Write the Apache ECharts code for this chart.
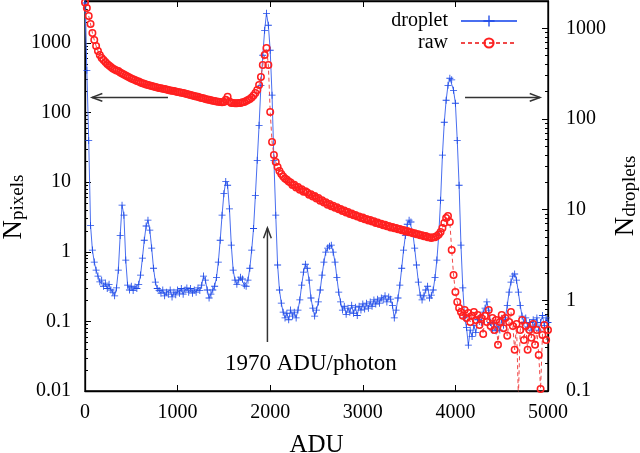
<!DOCTYPE html>
<html>
<head>
<meta charset="utf-8">
<script src="https://cdn.jsdelivr.net/npm/echarts@6/dist/echarts.min.js"></script>
<style>
html, body { margin: 0; padding: 0; background: #fff; }
#chart { width: 640px; height: 453px; }
</style>
</head>
<body>
<div id="chart"></div>
<script>
// histogram bins, 20 ADU wide
var adu = [
    0, 20, 40, 60, 80, 100, 120, 140, 160, 180,
    200, 220, 240, 260, 280, 300, 320, 340, 360, 380,
    400, 420, 440, 460, 480, 500, 520, 540, 560, 580,
    600, 620, 640, 660, 680, 700, 720, 740, 760, 780,
    800, 820, 840, 860, 880, 900, 920, 940, 960, 980,
    1000, 1020, 1040, 1060, 1080, 1100, 1120, 1140, 1160, 1180,
    1200, 1220, 1240, 1260, 1280, 1300, 1320, 1340, 1360, 1380,
    1400, 1420, 1440, 1460, 1480, 1500, 1520, 1540, 1560, 1580,
    1600, 1620, 1640, 1660, 1680, 1700, 1720, 1740, 1760, 1780,
    1800, 1820, 1840, 1860, 1880, 1900, 1920, 1940, 1960, 1980,
    2000, 2020, 2040, 2060, 2080, 2100, 2120, 2140, 2160, 2180,
    2200, 2220, 2240, 2260, 2280, 2300, 2320, 2340, 2360, 2380,
    2400, 2420, 2440, 2460, 2480, 2500, 2520, 2540, 2560, 2580,
    2600, 2620, 2640, 2660, 2680, 2700, 2720, 2740, 2760, 2780,
    2800, 2820, 2840, 2860, 2880, 2900, 2920, 2940, 2960, 2980,
    3000, 3020, 3040, 3060, 3080, 3100, 3120, 3140, 3160, 3180,
    3200, 3220, 3240, 3260, 3280, 3300, 3320, 3340, 3360, 3380,
    3400, 3420, 3440, 3460, 3480, 3500, 3520, 3540, 3560, 3580,
    3600, 3620, 3640, 3660, 3680, 3700, 3720, 3740, 3760, 3780,
    3800, 3820, 3840, 3860, 3880, 3900, 3920, 3940, 3960, 3980,
    4000, 4020, 4040, 4060, 4080, 4100, 4120, 4140, 4160, 4180,
    4200, 4220, 4240, 4260, 4280, 4300, 4320, 4340, 4360, 4380,
    4400, 4420, 4440, 4460, 4480, 4500, 4520, 4540, 4560, 4580,
    4600, 4620, 4640, 4660, 4680, 4700, 4720, 4740, 4760, 4780,
    4800, 4820, 4840, 4860, 4880, 4900, 4920, 4940, 4960, 4980,
    5000
];

// N_droplets (right axis)
var droplet = [
    1900, 344, 58, 6.7, 3.58, 2.64, 2.15, 1.85, 1.6, 1.67,
    1.43, 1.55, 1.35, 1.5, 1.30, 1.23, 1.12, 1.37, 2.15, 5.2,
    11.2, 8.7, 2.78, 1.47, 1.30, 1.43, 1.28, 1.40, 1.35, 1.5,
    1.90, 2.92, 4.6, 6.6, 7.66, 5.94, 3.77, 2.26, 1.59, 1.35,
    1.28, 1.20, 1.30, 1.12, 1.23, 1.17, 1.30, 1.09, 1.23, 1.15,
    1.30, 1.20, 1.35, 1.17, 1.30, 1.37, 1.23, 1.35, 1.20, 1.30,
    1.23, 1.37, 1.28, 1.47, 1.85, 1.67, 1.30, 1.06, 1.17, 1.30,
    1.43, 1.78, 2.64, 4.6, 8.7, 15, 20.5, 18.6, 10.2, 4.06,
    2.15, 1.67, 1.5, 1.67, 1.80, 1.72, 1.47, 1.43, 1.67, 2.26,
    3.58, 6.2, 14.3, 35, 85, 235, 504, 950, 1463, 1080,
    572, 183, 35, 8.7, 2.45, 1.30, 0.93, 0.74, 0.64, 0.72,
    0.61, 0.78, 0.67, 0.74, 0.64, 0.78, 1.01, 1.47, 2.05, 2.5,
    2.26, 1.67, 1.06, 0.82, 0.67, 0.78, 0.96, 1.30, 1.90, 2.64,
    3.4, 3.77, 3.96, 4.06, 3.4, 2.64, 1.78, 1.23, 0.96, 0.78,
    0.86, 0.70, 0.82, 0.74, 0.88, 0.72, 0.84, 0.68, 0.86, 0.78,
    0.91, 0.80, 0.93, 0.82, 0.96, 0.86, 1.01, 0.91, 1.03, 0.93,
    1.06, 1.01, 1.12, 0.96, 1.09, 1.03, 0.88, 0.64, 0.78, 1.06,
    1.47, 2.26, 3.58, 5.2, 6.9, 7.66, 7.3, 5.6, 3.77, 2.45,
    1.59, 1.14, 1.01, 1.12, 1.30, 1.43, 1.06, 1.14, 1.30, 1.78,
    2.78, 5.2, 12.7, 40, 92, 161, 235, 281, 270, 207,
    149, 58, 18.6, 4.06, 1.37, 0.64, 0.50, 0.32, 0.47, 0.40,
    0.53, 0.44, 0.61, 0.64, 0.57, 0.74, 0.82, 0.96, 0.78, 0.57,
    0.47, 0.55, 0.46, 0.52, 0.47, 0.61, 0.53, 0.64, 0.88, 1.23,
    1.59, 1.85, 1.95, 1.67, 1.23, 0.88, 0.67, 0.57, 0.64, 0.51,
    0.57, 0.47, 0.61, 0.52, 0.64, 0.47, 0.57, 0.68, 0.53, 0.64,
    0.57
];

// N_pixels (left axis)
var raw = [
    3800, 3180, 2440, 1875, 1390, 1100, 906, 767, 673, 609,
    570, 533, 499, 475, 452, 430, 416, 403, 395, 377,
    365, 353, 341, 330, 319, 309, 301, 294, 284, 278,
    271, 264, 259, 253, 249, 245, 241, 236, 232, 229,
    226, 223, 220, 217, 214, 211, 208, 206, 203, 200,
    198, 195, 192, 190, 187, 185, 182, 179, 176, 173,
    170, 168, 165, 162, 160, 157, 154, 152, 150, 148,
    146, 144, 143, 142, 141, 142, 152, 168, 144, 137,
    137, 136, 136, 137, 137, 140, 142, 146, 151, 157,
    165, 176, 191, 211, 249, 325, 483, 673, 848, 483,
    102, 37.8, 24.6, 19.5, 16.5, 14.5, 13.1, 12.1, 11.3, 10.8,
    10.2, 9.9, 9.1, 9.2, 8.4, 8.5, 7.8, 7.9, 7.3, 7.4,
    7.1, 6.6, 6.7, 6.2, 6.3, 5.8, 5.9, 5.4, 5.5, 5.1,
    5.15, 4.75, 4.85, 4.5, 4.6, 4.28, 4.36, 4.08, 4.12, 3.86,
    3.92, 3.66, 3.72, 3.5, 3.55, 3.34, 3.38, 3.2, 3.22, 3.05,
    3.1, 2.94, 2.96, 2.82, 2.86, 2.72, 2.74, 2.6, 2.63, 2.5,
    2.53, 2.41, 2.44, 2.32, 2.35, 2.24, 2.26, 2.17, 2.19, 2.1,
    2.12, 2.03, 2.05, 1.96, 1.98, 1.9, 1.91, 1.84, 1.85, 1.78,
    1.79, 1.72, 1.73, 1.67, 1.68, 1.61, 1.62, 1.58, 1.61, 1.62,
    1.69, 1.77, 1.92, 2.20, 2.59, 3.06, 3.27, 2.68, 1.06, 0.465,
    0.264, 0.190, 0.156, 0.136, 0.120, 0.146, 0.112, 0.132, 0.098, 0.120,
    0.136, 0.105, 0.124, 0.089, 0.112, 0.066, 0.120, 0.098, 0.146, 0.086,
    0.112, 0.075, 0.105, 0.046, 0.098, 0.124, 0.080, 0.112, 0.062, 0.098,
    0.136, 0.086, 0.039, 0.092, 0.008, 0.075, 0.105, 0.054, 0.086, 0.039,
    0.075, 0.058, 0.092, 0.046, 0.075, 0.033, 0.0107, 0.064, 0.089, 0.054,
    0.075
];

var pixelTicks = [0.01, 0.1, 1, 10, 100, 1000];
var dropletTicks = [0.1, 1, 10, 100, 1000];

// annotation anchors, in data units (left axis)
var photonLabel = '1970 ADU/photon';
var photonArrow = [[1970, 0.0506], [1970, 2.2]];
var photonLabelAt = [2440, 0.0244];
var pixelArrow = [[896, 165], [76, 165]];
var dropletArrow = [[4104, 165], [4914, 165]];

var FONT = 'Liberation Serif';
var plusPath = 'path://M-0.6,-5H0.6V-0.6H5V0.6H0.6V5H-0.6V0.6H-5V-0.6H-0.6Z';
var ringPath = 'path://M0,-5A5,5 0 1,1 0,5A5,5 0 1,1 0,-5ZM0,-3.1A3.1,3.1 0 1,0 0,3.1A3.1,3.1 0 1,0 0,-3.1Z';

function tickLabel(list) {
    return function (v) {
        for (var i = 0; i < list.length; i++) {
            if (Math.abs(v / list[i] - 1) < 1e-6) return String(list[i]);
        }
        return '';
    };
}

// gnuplot style log minor ticks at 2..9 of each decade
function minorTicks(majors, max) {
    var out = [];
    majors.forEach(function (m) {
        for (var k = 2; k <= 9; k++) {
            if (m * k < max) out.push(+(m * k).toPrecision(6));
        }
    });
    return out;
}

var myChart;
function initChart() {
    myChart = echarts.init(document.getElementById('chart'));

    var axisLine = { show: true, onZero: false, lineStyle: { color: '#000', width: 1.3 } };
    var tick = { show: true, inside: true, length: 6, lineStyle: { color: '#000', width: 1 } };
    var label = { color: '#000', fontFamily: FONT, fontSize: 20 };

    function minorAxis(pos, min, max, values) {
        return {
            type: 'log', logBase: 10, min: min, max: max, position: pos,
            axisLine: { show: false, onZero: false },
            axisLabel: { show: false },
            splitLine: { show: false },
            axisTick: { show: true, inside: true, length: 3, customValues: values, lineStyle: { color: '#000', width: 1 } }
        };
    }

    var option = {
        animation: false,
        backgroundColor: '#fff',
        grid: {
            left: 85, right: 92, top: 1, bottom: 62, containLabel: false, outerBoundsMode: 'none',
            show: true, borderColor: '#000', borderWidth: 1.3, backgroundColor: 'transparent'
        },
        legend: {
            data: ['droplet', 'raw'],
            orient: 'vertical',
            right: 117,
            top: 5,
            align: 'right',
            itemWidth: 56,
            itemHeight: 14,
            itemGap: 0,
            selectedMode: false,
            textStyle: { color: '#000', fontFamily: FONT, fontSize: 20, lineHeight: 22, padding: [0, 8, 0, 0] }
        },
        xAxis: [
            {
                type: 'value', min: 0, max: 5000, interval: 1000, position: 'bottom',
                axisLine: axisLine, axisTick: tick,
                axisLabel: Object.assign({ margin: 12, formatter: function (v) { return String(v); } }, label),
                splitLine: { show: false },
                name: 'ADU', nameLocation: 'middle', nameGap: 42,
                nameTextStyle: { color: '#000', fontFamily: FONT, fontSize: 25 }
            },
            {
                type: 'value', min: 0, max: 5000, interval: 1000, position: 'top',
                axisLine: axisLine, axisTick: tick,
                axisLabel: { show: false }, splitLine: { show: false }
            }
        ],
        yAxis: [
            {
                type: 'log', logBase: 10, min: 0.01, max: 4000, position: 'left',
                axisLine: axisLine, axisTick: tick,
                axisLabel: Object.assign({ margin: 14, formatter: tickLabel(pixelTicks) }, label),
                splitLine: { show: false },
                name: 'N{s|pixels}', nameLocation: 'middle', nameGap: 57, nameRotate: 90, nameMoveOverlap: false,
                nameTextStyle: {
                    color: '#000', fontFamily: FONT, fontSize: 27, lineHeight: 28, padding: [0, 22, 0, 0],
                    rich: { s: { fontFamily: FONT, fontSize: 19, lineHeight: 14, verticalAlign: 'bottom', color: '#000' } }
                }
            },
            {
                type: 'log', logBase: 10, min: 0.1, max: 2000, position: 'right',
                axisLine: axisLine, axisTick: tick,
                axisLabel: Object.assign({ margin: 18, formatter: tickLabel(dropletTicks) }, label),
                splitLine: { show: false },
                name: 'N{s|droplets}', nameLocation: 'middle', nameGap: 64, nameRotate: 90, nameMoveOverlap: false,
                nameTextStyle: {
                    color: '#000', fontFamily: FONT, fontSize: 27, lineHeight: 28,
                    rich: { s: { fontFamily: FONT, fontSize: 19, lineHeight: 14, verticalAlign: 'bottom', color: '#000' } }
                }
            },
            minorAxis('left', 0.01, 4000, minorTicks(pixelTicks, 4000)),
            minorAxis('right', 0.1, 2000, minorTicks(dropletTicks, 2000))
        ],
        series: [
            {
                name: 'droplet',
                type: 'line',
                yAxisIndex: 1,
                symbol: plusPath,
                symbolSize: 7,
                lineStyle: { color: '#4a6ff0', width: 1 },
                itemStyle: { color: '#1f4be8' },
                emphasis: { disabled: true },
                data: adu.map(function (x, i) { return [x, droplet[i]]; })
            },
            {
                name: 'raw',
                type: 'line',
                yAxisIndex: 0,
                symbol: ringPath,
                symbolSize: 8,
                lineStyle: { color: '#f04848', width: 1, type: [4, 3] },
                itemStyle: { color: '#ff2020' },
                emphasis: { disabled: true },
                data: adu.map(function (x, i) { return [x, raw[i]]; })
            }
        ]
    };

    option && myChart.setOption(option);

    // arrows and label placed through the axes
    function px(p) { return myChart.convertToPixel({ xAxisIndex: 0, yAxisIndex: 0 }, p); }
    function arrow(seg) {
        var a = px(seg[0]), b = px(seg[1]);
        var ang = Math.atan2(b[1] - a[1], b[0] - a[0]);
        var len = 11, spread = 0.36;
        var h1 = [b[0] - len * Math.cos(ang - spread), b[1] - len * Math.sin(ang - spread)];
        var h2 = [b[0] - len * Math.cos(ang + spread), b[1] - len * Math.sin(ang + spread)];
        var style = { stroke: '#333', lineWidth: 1.5, fill: null };
        return [
            { type: 'polyline', shape: { points: [a, b] }, style: style, z: 10 },
            { type: 'polyline', shape: { points: [h1, b, h2] }, style: style, z: 10 }
        ];
    }
    var lp = px(photonLabelAt);
    var elements = [].concat(arrow(photonArrow), arrow(pixelArrow), arrow(dropletArrow));
    elements.push({
        type: 'text', x: lp[0], y: lp[1], z: 10,
        style: { text: photonLabel, fill: '#000', font: '23px "Liberation Serif"', align: 'center', verticalAlign: 'middle' }
    });
    myChart.setOption({ graphic: elements });
}

document.addEventListener('DOMContentLoaded', function () {
    initChart();
});

window.addEventListener('resize', () => {
    myChart.resize();
});
</script>
</body>
</html>
